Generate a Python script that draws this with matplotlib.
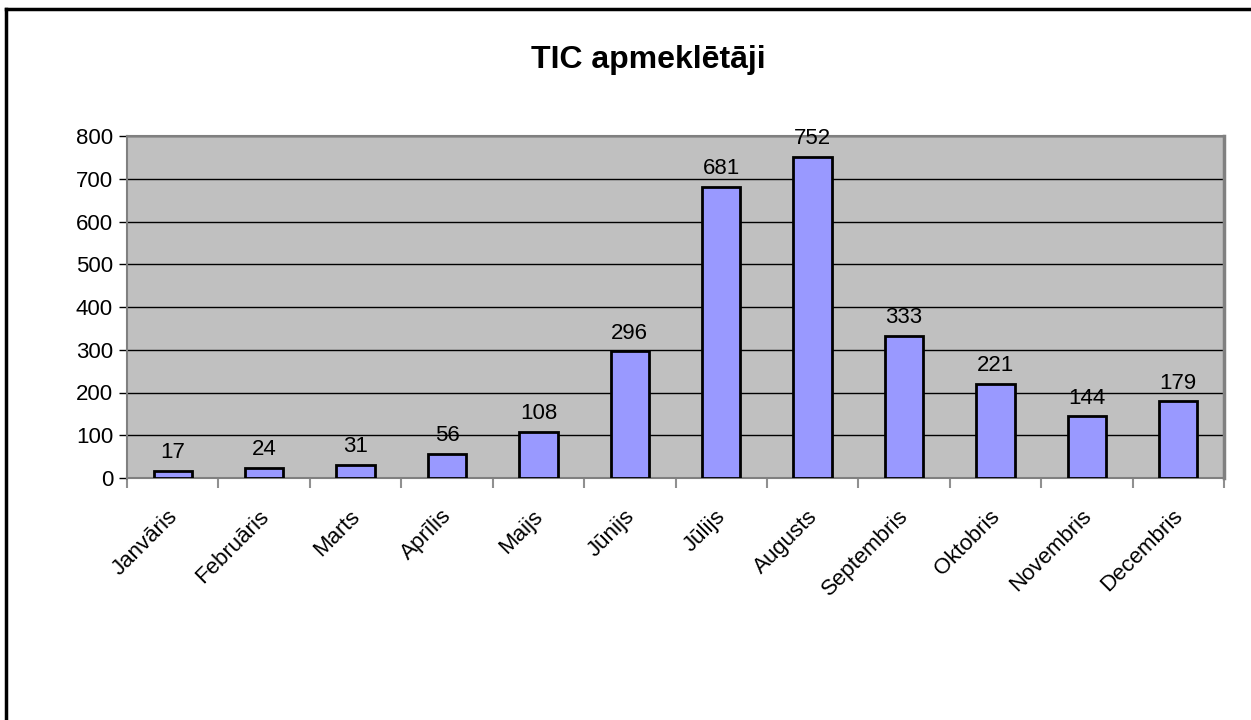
import numpy as np
import matplotlib.pyplot as plt
import matplotlib.transforms as mtransforms
from matplotlib.lines import Line2D

plt.rcParams['font.family'] = ['Liberation Sans', 'DejaVu Sans']

months = ['Janvāris', 'Februāris', 'Marts', 'Aprīlis', 'Maijs', 'Jūnijs',
          'Jūlijs', 'Augusts', 'Septembris', 'Oktobris', 'Novembris', 'Decembris']
visitors = [17, 24, 31, 56, 108, 296, 681, 752, 333, 221, 144, 179]
yticks = [0, 100, 200, 300, 400, 500, 600, 700, 800]

fig = plt.figure(figsize=(12.51, 7.20), dpi=100)
ax = fig.add_axes([127 / 1251, 1 - 478 / 720, (1224 - 127) / 1251, (478 - 136) / 720])
ax.set_facecolor('#C0C0C0')

x = np.arange(len(months))
bars = ax.bar(x, visitors, width=0.42, color='#9999FF', edgecolor='black',
              linewidth=2, zorder=3)
for xi, v in zip(x, visitors):
    ax.text(xi, v + 18, str(v), ha='center', va='bottom', fontsize=16, zorder=4)

ax.set_xlim(-0.5, len(months) - 0.5)
ax.set_ylim(0, 800)
ax.set_yticks(yticks)
ax.tick_params(axis='y', labelsize=16, length=6, width=1, color='black', pad=4)
ax.yaxis.grid(True, color='black', linewidth=1, zorder=1)
ax.set_axisbelow(True)

# x ticks sit between categories, labels at category centres
ax.set_xticks(np.arange(-0.5, len(months), 1.0))
ax.set_xticklabels([])
ax.set_xticks(x, minor=True)
ax.set_xticklabels(months, minor=True, rotation=45, ha='right',
                   rotation_mode='anchor', fontsize=16)
ax.tick_params(axis='x', which='major', length=7, width=1.5, color='#909090')
ax.tick_params(axis='x', which='minor', length=0, pad=20)
shift = mtransforms.ScaledTranslation(-6 / 100, 0, fig.dpi_scale_trans)
for lab in ax.get_xticklabels(minor=True):
    lab.set_transform(lab.get_transform() + shift)

for side in ['top', 'right', 'bottom', 'left']:
    ax.spines[side].set_color('#808080')
    ax.spines[side].set_linewidth(1.5)
ax.spines['right'].set_linewidth(2.5)

fig.text(0.518, 1 - 60 / 720, 'TIC apmeklētāji', ha='center', va='center',
         fontsize=23, fontweight='bold')

# outer frame (top and left only)
fig.add_artist(Line2D([6 / 1251, 1.0], [1 - 9 / 720, 1 - 9 / 720],
                      transform=fig.transFigure, color='black', linewidth=2.5))
fig.add_artist(Line2D([6 / 1251, 6 / 1251], [0.0, 1 - 9 / 720],
                      transform=fig.transFigure, color='black', linewidth=2.5))

fig.savefig('out.png', dpi=100)
